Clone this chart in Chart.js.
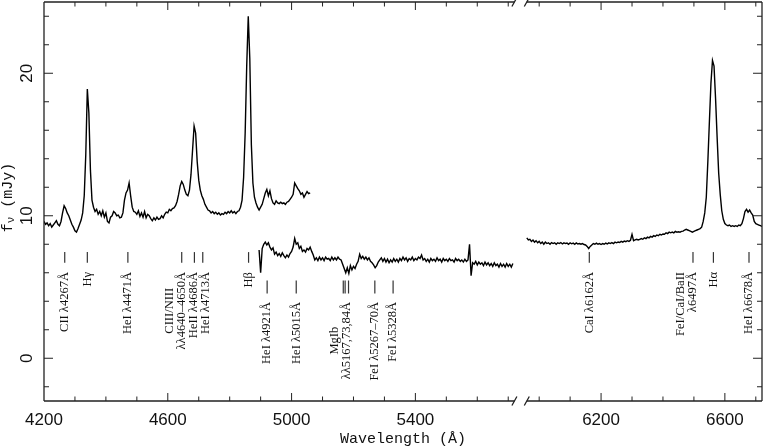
<!DOCTYPE html>
<html>
<head>
<meta charset="utf-8">
<script src="https://cdn.jsdelivr.net/npm/chart.js@4.4.1/dist/chart.umd.min.js"></script>
<style>
html, body { margin: 0; padding: 0; background: #fff; }
canvas { display: block; }
</style>
</head>
<body>
<canvas id="spec" width="766" height="448"></canvas>
<script>
// spectra sampled every 5 A
const step = 5;
const blueStart = 4200;   // blue arm, 4200-5060
const lowStart = 4895;    // offset (lower) blue spectrum, 4895-5715
const redStart = 5960;    // red arm, 5960-6720

// axis break: 5720 -> 5960 is squeezed, red part plotted shifted by 200 A
const breakLo = 5720;
const breakHi = 5960;
const breakShift = 200;

const blueFlux = [
  9.6, 9.4, 9.5, 9.3, 9.45, 9.2, 9.35, 9.5, 9.65, 9.4,
  9.3, 9.6, 10.2, 10.7, 10.5, 10.2, 10.0, 9.7, 9.4, 9.2,
  8.95, 8.85, 9.1, 9.4, 9.7, 10.2, 11.4, 14.3, 18.9, 17.2,
  13.2, 11.1, 10.6, 10.3, 10.45, 10.1, 10.3, 10.0, 10.35, 9.9,
  10.2, 9.6, 9.5, 9.9, 10.0, 10.3, 10.2, 10.0, 10.05, 9.85,
  9.9, 10.2, 11.1, 11.6, 11.8, 12.3, 11.4, 10.6, 10.3, 10.25,
  10.1, 10.35, 9.95, 10.2, 9.9, 10.3, 9.85, 10.1, 10.0, 9.8,
  9.65, 9.85, 9.7, 9.9, 9.75, 9.8, 10.0, 9.85, 10.1, 10.25,
  10.2, 10.45, 10.35, 10.5, 10.55, 10.7, 11.0, 11.5, 12.1, 12.4,
  12.2, 11.8, 11.5, 11.4, 11.8, 12.9, 14.6, 16.3, 15.8, 13.8,
  12.5, 11.8, 11.4, 11.15, 10.8, 10.6, 10.4, 10.35, 10.2, 10.3,
  10.15, 10.25, 10.1, 10.2, 10.05, 10.15, 10.1, 10.25, 10.15, 10.3,
  10.2, 10.35, 10.2, 10.3, 10.15, 10.3, 10.35, 10.6, 11.1, 12.7,
  15.8, 20.5, 24.0, 21.0, 15.0, 12.3, 11.3, 10.9, 10.6, 10.4,
  10.6, 10.8, 11.2, 11.6, 11.85, 11.4, 11.75, 11.2, 10.9, 10.8,
  11.05, 10.9, 10.85, 10.95, 10.85, 10.9, 10.8, 10.95, 11.0, 11.15,
  11.3, 11.5, 12.3, 12.1, 11.9, 11.75, 11.5, 11.6, 11.3, 11.5,
  11.7, 11.55, 11.6
];

const lowFlux = [
  7.6, 6.0, 7.7, 8.0, 8.15, 7.95, 8.1, 7.8, 7.6, 7.75,
  7.3, 7.45, 7.2, 7.35, 7.15, 7.4, 7.2, 7.05, 7.25, 7.1,
  7.35, 7.5, 7.8, 8.4, 8.0, 8.1, 7.7, 7.85, 7.5, 7.6,
  7.45, 7.7, 7.6, 7.8, 7.5, 7.25, 6.9, 7.05, 6.85, 7.1,
  6.9, 7.05, 6.85, 7.1, 6.95, 7.0, 6.85, 7.1, 6.9, 7.05,
  6.9, 7.1, 6.95, 6.9, 6.6, 6.3, 6.0, 6.35, 5.95, 6.5,
  6.2, 6.45, 6.3, 6.6, 6.8, 7.3, 7.0, 7.15, 6.95, 7.1,
  6.9, 7.05, 6.8, 6.7, 6.55, 6.35, 6.5, 6.75, 6.9, 7.05,
  6.8, 7.0, 6.75, 6.95, 6.7, 6.9, 6.75, 7.0, 6.8, 6.95,
  6.75, 7.0, 6.85, 7.1, 6.9, 7.05, 6.8, 7.0, 6.9, 7.1,
  6.85, 7.0, 6.9, 7.1, 7.0, 7.25, 6.9, 7.0, 6.8, 6.95,
  6.75, 7.0, 6.85, 6.95, 6.8, 7.05, 6.85, 6.95, 6.75, 7.0,
  6.85, 6.95, 6.8, 7.0, 6.85, 6.9, 6.75, 7.0, 6.85, 6.95,
  6.8, 6.9, 6.75, 6.95, 6.8, 6.9, 8.0, 5.8, 6.7, 6.6,
  6.8, 6.55, 6.75, 6.6, 6.7, 6.5, 6.75, 6.55, 6.7, 6.5,
  6.65, 6.45, 6.7, 6.5, 6.6, 6.4, 6.65, 6.45, 6.6, 6.4,
  6.65, 6.45, 6.6, 6.4, 6.65
];

const redFlux = [
  8.45, 8.3, 8.35, 8.2, 8.3, 8.15, 8.25, 8.1, 8.2, 8.05,
  8.15, 8.0, 8.15, 8.05, 8.1, 8.0, 8.12, 8.05, 8.1, 8.0,
  8.1, 8.05, 8.12, 8.02, 8.1, 8.05, 8.08, 8.0, 8.1, 8.03,
  8.08, 8.0, 8.1, 8.02, 8.05, 8.0, 8.05, 7.98, 7.95, 7.85,
  7.7, 7.85, 7.95, 8.05, 8.0, 8.08, 8.0, 8.05, 7.98, 8.05,
  8.0, 8.08, 8.02, 8.1, 8.05, 8.12, 8.05, 8.15, 8.1, 8.15,
  8.12, 8.2, 8.15, 8.22, 8.18, 8.25, 8.2, 8.28, 8.7, 8.25,
  8.3, 8.35, 8.3, 8.35, 8.4, 8.35, 8.45, 8.4, 8.5, 8.45,
  8.55, 8.5, 8.6, 8.55, 8.65, 8.6, 8.7, 8.65, 8.72, 8.7,
  8.8, 8.75, 8.85, 8.8, 8.85, 8.8, 8.9, 8.85, 8.88, 8.85,
  8.9, 8.92, 9.0, 9.05, 9.0, 8.95, 8.9, 8.85, 8.9, 8.95,
  9.0, 9.05, 9.1, 9.2, 9.6, 10.2, 11.3, 13.8, 16.6, 19.3,
  20.9, 20.5, 18.2, 15.5, 13.0, 11.5, 10.35, 9.75, 9.45, 9.35,
  9.3, 9.35, 9.25, 9.3, 9.25, 9.3, 9.25, 9.35, 9.3, 9.45,
  9.8, 10.3, 10.45, 10.25, 10.4, 10.2, 10.05, 9.6, 9.45, 9.4,
  9.35, 9.3, 9.25
];

const xLabels = [4200, 4600, 5000, 5400, 6200, 6600];
const yLabels = [0, 10, 20];

// line identifications: wavelengths, text lines, which row, how the two lines sit
const idRows = {
  upper: { markTop: 7.45, markBot: 6.7, textTop: 6.05 },
  lower: { markTop: 5.45, markBot: 4.55, textTop: 3.95 }
};
const lineIds = [
  { wl: [4267], text: ['CII λ4267Å'], row: 'upper' },
  { wl: [4340], text: ['Hγ'], row: 'upper' },
  { wl: [4471], text: ['HeI λ4471Å'], row: 'upper' },
  { wl: [4645], text: ['CIII/NIII', 'λλ4640–4650Å'], row: 'upper', center: true },
  { wl: [4686], text: ['HeII λ4686Å'], row: 'upper', dx: -1 },
  { wl: [4713], text: ['HeI λ4713Å'], row: 'upper', dx: 2.5 },
  { wl: [4861], text: ['Hβ'], row: 'upper' },
  { wl: [4921], text: ['HeI λ4921Å'], row: 'lower' },
  { wl: [5015], text: ['HeI λ5015Å'], row: 'lower' },
  { wl: [5167, 5173, 5184], text: ['MgIb', 'λλ5167,73,84Å'], row: 'lower', center: true },
  { wl: [5269], text: ['FeI λ5267–70Å'], row: 'lower' },
  { wl: [5328], text: ['FeI λ5328Å'], row: 'lower' },
  { wl: [6162], text: ['CaI λ6162Å'], row: 'upper' },
  { wl: [6497], text: ['FeI/CaI/BaII', 'λ6497Å'], row: 'upper' },
  { wl: [6563], text: ['Hα'], row: 'upper' },
  { wl: [6678], text: ['HeI λ6678Å'], row: 'upper' }
];

function toU(wl) { return wl >= breakHi ? wl - breakShift : wl; }
function fromU(u) { return u > breakLo + 20 ? u + breakShift : u; }

function toPoints(start, flux) {
  return flux.map((f, i) => ({ x: toU(start + i * step), y: f }));
}

const serif = '"Liberation Serif", "DejaVu Serif", serif';
const mono = '"Liberation Mono", "DejaVu Sans Mono", monospace';
const sans = '"Liberation Sans", "DejaVu Sans", sans-serif';

const decor = {
  id: 'decor',
  afterDatasetsDraw(chart) {
    const ctx = chart.ctx;
    const a = chart.chartArea;
    const x = chart.scales.x, y = chart.scales.y;
    const b1 = x.getPixelForValue(breakLo);
    const b2 = x.getPixelForValue(toU(breakHi));

    ctx.save();
    ctx.strokeStyle = '#222';
    ctx.lineWidth = 1.3;

    // frame with the gap at the break
    ctx.beginPath();
    ctx.moveTo(a.left, a.top); ctx.lineTo(a.left, a.bottom);
    ctx.moveTo(a.right, a.top); ctx.lineTo(a.right, a.bottom);
    [a.top, a.bottom].forEach(yy => {
      ctx.moveTo(a.left, yy); ctx.lineTo(b1, yy);
      ctx.moveTo(b2, yy); ctx.lineTo(a.right, yy);
    });
    ctx.stroke();

    // break marks
    ctx.beginPath();
    [a.top, a.bottom].forEach(yy => {
      [b1, b2].forEach(bx => {
        ctx.moveTo(bx - 2.5, yy + 4.5);
        ctx.lineTo(bx + 2.5, yy - 4.5);
      });
    });
    ctx.stroke();

    // x ticks every 100 A, inward on bottom and top
    ctx.lineWidth = 1;
    ctx.beginPath();
    const xt = [];
    for (let w = 4300; w <= 5700; w += 100) xt.push(w);
    for (let w = 6000; w <= 6700; w += 100) xt.push(w);
    xt.forEach(w => {
      const px = x.getPixelForValue(toU(w));
      const len = xLabels.includes(w) ? 8 : 4.5;
      ctx.moveTo(px, a.bottom); ctx.lineTo(px, a.bottom - len);
      ctx.moveTo(px, a.top); ctx.lineTo(px, a.top + len);
    });
    // y ticks every 2 mJy, inward on both sides
    for (let v = -2; v <= 24; v += 2) {
      const py = y.getPixelForValue(v);
      const len = yLabels.includes(v) ? 9 : 5;
      ctx.moveTo(a.left, py); ctx.lineTo(a.left + len, py);
      ctx.moveTo(a.right, py); ctx.lineTo(a.right - len, py);
    }
    ctx.stroke();

    // y tick labels, rotated
    ctx.fillStyle = '#111';
    ctx.font = '17px ' + sans;
    ctx.textAlign = 'center';
    ctx.textBaseline = 'middle';
    yLabels.forEach(v => {
      ctx.save();
      ctx.translate(27, y.getPixelForValue(v));
      ctx.rotate(-Math.PI / 2);
      ctx.fillText(String(v), 0, 0);
      ctx.restore();
    });

    // y title  f_nu (mJy)
    ctx.save();
    ctx.translate(8, (a.top + a.bottom) / 2 - 4);
    ctx.rotate(-Math.PI / 2);
    ctx.textAlign = 'left';
    ctx.textBaseline = 'middle';
    const big = '15px ' + mono, small = '11px ' + mono;
    ctx.font = big; const wF = ctx.measureText('f').width;
    ctx.font = small; const wNu = ctx.measureText('ν').width;
    ctx.font = big; const wRest = ctx.measureText(' (mJy)').width;
    let tx = -(wF + wNu + wRest) / 2;
    ctx.font = big; ctx.fillText('f', tx, 0); tx += wF;
    ctx.font = small; ctx.fillText('ν', tx, 3); tx += wNu;
    ctx.font = big; ctx.fillText(' (mJy)', tx, 0);
    ctx.restore();

    // line identifications
    ctx.strokeStyle = '#333';
    ctx.lineWidth = 1.2;
    ctx.font = '12.5px ' + serif;
    lineIds.forEach(id => {
      const r = idRows[id.row];
      const yT = y.getPixelForValue(r.markTop), yB = y.getPixelForValue(r.markBot);
      ctx.beginPath();
      id.wl.forEach(w => {
        const px = x.getPixelForValue(toU(w));
        ctx.moveTo(px, yT); ctx.lineTo(px, yB);
      });
      ctx.stroke();
      const px = x.getPixelForValue(toU(id.wl[id.wl.length - 1])) - (id.wl.length > 1 ? 2 : 0) + (id.dx || 0);
      const top = y.getPixelForValue(r.textTop);
      const widths = id.text.map(t => ctx.measureText(t).width);
      const maxW = Math.max(...widths);
      id.text.forEach((t, i) => {
        const off = (i - (id.text.length - 1)) * 12;
        ctx.save();
        ctx.translate(px + off, top);
        ctx.rotate(-Math.PI / 2);
        ctx.textBaseline = 'middle';
        if (id.center) {
          ctx.textAlign = 'center';
          ctx.fillText(t, -maxW / 2, 0);
        } else {
          ctx.textAlign = 'right';
          ctx.fillText(t, 0, 0);
        }
        ctx.restore();
      });
    });
    ctx.restore();
  }
};

const lineStyle = { showLine: true, borderColor: '#000', borderWidth: 1.4, pointRadius: 0, tension: 0 };

new Chart(document.getElementById('spec'), {
  type: 'scatter',
  data: {
    datasets: [
      Object.assign({ data: toPoints(blueStart, blueFlux) }, lineStyle),
      Object.assign({ data: toPoints(lowStart, lowFlux) }, lineStyle),
      Object.assign({ data: toPoints(redStart, redFlux) }, lineStyle)
    ]
  },
  options: {
    responsive: false,
    animation: false,
    layout: { padding: { top: 2, right: 4, left: 0, bottom: 0 } },
    plugins: { legend: { display: false }, tooltip: { enabled: false } },
    scales: {
      x: {
        type: 'linear',
        min: 4200,
        max: 6520,
        grid: { display: false, drawTicks: false },
        border: { display: false },
        afterBuildTicks: s => { s.ticks = xLabels.map(w => ({ value: toU(w) })); },
        afterFit: s => { s.height = 47; },
        ticks: {
          autoSkip: false,
          maxRotation: 0,
          padding: 9,
          color: '#111',
          font: { family: sans, size: 17 },
          callback: v => String(fromU(v))
        },
        title: {
          display: true,
          text: 'Wavelength (Å)',
          color: '#111',
          font: { family: mono, size: 15 },
          padding: { top: 0, bottom: 0 }
        }
      },
      y: {
        min: -3,
        max: 25,
        grid: { display: false, drawTicks: false },
        border: { display: false },
        ticks: { display: false },
        afterFit: s => { s.width = 44; }
      }
    }
  },
  plugins: [decor]
});
</script>
</body>
</html>
